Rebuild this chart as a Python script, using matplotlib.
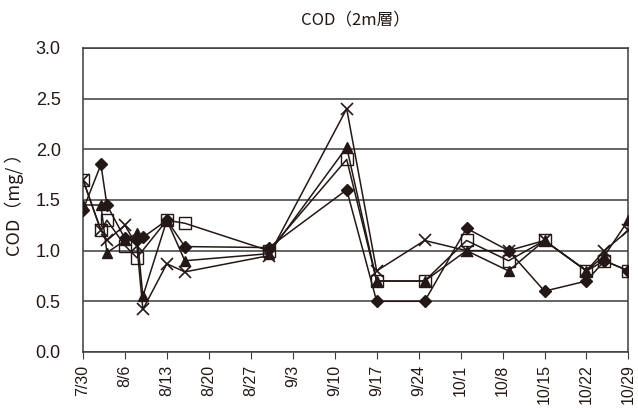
import numpy as np
import matplotlib.pyplot as plt

plt.rcParams['font.family'] = ['Liberation Sans', 'Noto Sans CJK JP', 'DejaVu Sans']

# sampling days, counted from 7/30
days = [0, 3, 4, 7, 9, 10, 14, 17, 31, 44, 49, 57, 64, 71, 77, 84, 87, 91]

st_diamond = [1.40, 1.85, 1.45, 1.12, 1.10, 1.13, 1.30, 1.04, 1.03, 1.60, 0.50, 0.50,
              1.22, 1.00, 0.60, 0.70, 0.90, 0.80]
st_triangle = [1.45, 1.45, 0.98, 1.10, 1.17, 0.55, 1.30, 0.90, 0.97, 2.02, 0.70, 0.70,
               1.00, 0.80, 1.10, 0.80, 0.95, 1.30]
st_square = [1.70, 1.20, 1.30, 1.05, 0.93, np.nan, 1.30, 1.27, 1.00, 1.90, 0.70, 0.70,
             1.10, 0.90, 1.10, 0.80, 0.90, 0.80]
st_cross = [1.70, 1.20, 1.10, 1.25, 1.05, 0.42, 0.87, 0.79, 0.95, 2.40, 0.80, 1.10,
            1.00, 1.00, 1.10, 0.80, 1.00, 1.20]

tick_days = list(range(0, 92, 7))
tick_labels = ['7/30', '8/6', '8/13', '8/20', '8/27', '9/3', '9/10', '9/17',
               '9/24', '10/1', '10/8', '10/15', '10/22', '10/29']

ink = '#231815'
frame = '#3c3c3c'
jp = ['Noto Sans CJK JP', 'DejaVu Sans']

fig = plt.figure(figsize=(6.38, 4.17), dpi=100)
ax = fig.add_axes([0.130, 0.156, 0.855, 0.729])

x = np.array(days, float)
styles = [
    (st_diamond, dict(marker='D', ms=6.5, mfc=ink, mec=ink)),
    (st_triangle, dict(marker='^', ms=7.5, mfc=ink, mec=ink)),
    (st_square, dict(marker='s', ms=8.5, mfc='none', mec=ink, mew=1.0)),
    (st_cross, dict(marker='x', ms=9, mec=ink, mew=1.2)),
]
for vals, kw in styles:
    y = np.array(vals, float)
    ok = np.isfinite(y)
    ax.plot(x[ok], y[ok], color=ink, lw=1.1, zorder=3, **kw)

ax.set_xlim(0, 91)
ax.set_ylim(0, 3.0)
ax.set_yticks(np.arange(0, 3.01, 0.5))
ax.set_yticklabels([f'{v:.1f}' for v in np.arange(0, 3.01, 0.5)])
ax.set_xticks(tick_days)
ax.set_xticklabels(tick_labels, rotation=90)
ax.grid(axis='y', color=frame, lw=1.1)
ax.set_axisbelow(True)
for sp in ax.spines.values():
    sp.set_color(frame)
    sp.set_linewidth(1.1)
ax.tick_params(axis='x', direction='out', length=5, color=frame,
               labelsize=11.5, labelcolor=ink, pad=4)
ax.tick_params(axis='y', direction='out', length=0, labelsize=13,
               labelcolor=ink, pad=16)

ax.set_title('COD（2m層）', fontsize=12, color=ink, pad=17, family=jp)
ax.set_ylabel('COD（mg/ ）', fontsize=13, color=ink, labelpad=8, family=jp)

fig.savefig('out.png', dpi=100)
